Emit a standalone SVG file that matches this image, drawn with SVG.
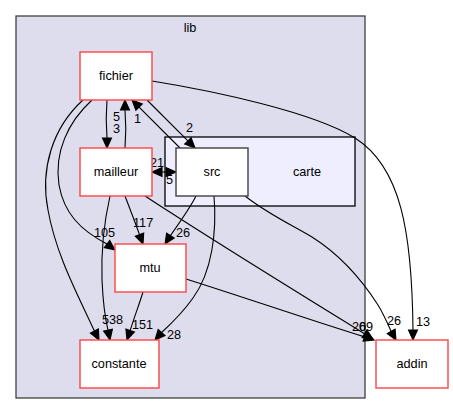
<svg xmlns="http://www.w3.org/2000/svg" width="453" height="415" viewBox="0 0 453 415">
<style>
text{font-family:"Liberation Sans",Arial,sans-serif;font-size:12.7px;fill:#000}
.c{text-anchor:middle}
.node{fill:#fff;stroke:#ff4444;stroke-width:1.4}
.dir{fill:#fff;stroke:#404040;stroke-width:1.4}
.e{fill:none;stroke:#000;stroke-width:1.1}
.h{fill:#000;stroke:#000;stroke-width:1.1}
</style>
<rect width="453" height="415" fill="#fff"/>
<g id="cluster_lib">
<rect x="16" y="16" width="349" height="382" fill="#ddddee" stroke="#404040" stroke-width="1.3"/>
<text class="c" x="190" y="32">lib</text>
</g>
<g id="cluster_carte">
<rect x="165" y="137" width="190" height="69" fill="#eeeeff" stroke="#000" stroke-width="1.3"/>
<text class="c" x="307" y="176">carte</text>
</g>
<g id="connectors">
<!-- fichier -> mailleur (3) -->
<path class="e" d="M107,100 C106,112 106,126 107,138"/>
<polygon class="h" points="107,148 102.5,138 111.5,138"/>
<text x="113" y="121">5</text>
<text x="113" y="133">3</text>
<!-- mailleur -> fichier (5) -->
<path class="e" d="M125,148 C126,136 126,122 125,110"/>
<polygon class="h" points="125,100 120.5,110 129.5,110"/>
<!-- src -> fichier (1) -->
<path class="e" d="M180,148 L139.1,107.1"/>
<polygon class="h" points="132,100 142.3,103.9 135.9,110.3"/>
<text x="134" y="123">1</text>
<!-- fichier -> src (2) -->
<path class="e" d="M147,100 L187.9,140.9"/>
<polygon class="h" points="195,148 191.1,137.7 184.7,144.1"/>
<text x="186" y="132">2</text>
<!-- mailleur <-> src -->
<path class="e" d="M162,172 L166,172"/>
<polygon class="h" points="176,172 166,167.5 166,176.5"/>
<polygon class="h" points="152,172 162,167.5 162,176.5"/>
<text x="150" y="167">21</text>
<text x="166" y="184">5</text>
<!-- fichier -> addin (13) -->
<path class="e" d="M152,81 C214,91 313,112 355,138 C401,167 412,232 413,330"/>
<polygon class="h" points="413,340 408.5,330 417.5,330"/>
<text x="416" y="326">13</text>
<!-- fichier -> mtu (105) -->
<path class="e" d="M92,100 C68,122 54,152 59,185 C64,213 80,230 107,244"/>
<polygon class="h" points="115,250 109.7,240.4 104.3,247.6"/>
<text x="94" y="237">105</text>
<!-- fichier -> constante (5) -->
<path class="e" d="M83,100 C52,128 40,170 48,210 C56,255 78,295 94.4,331.1"/>
<polygon class="h" points="99,340 98.4,329 90.4,333.2"/>
<!-- mailleur -> constante (38) -->
<path class="e" d="M110,196 C105,218 101,250 102,280 C103,302 105,318 108,330.2"/>
<polygon class="h" points="110,340 112.4,329.3 103.6,331.1"/>
<text x="102" y="324">5</text>
<text x="109" y="324">38</text>
<!-- mailleur -> mtu (117) -->
<path class="e" d="M125,196 C130,209 135,222 139.5,234.6"/>
<polygon class="h" points="143,244 143.7,233 135.3,236.2"/>
<text x="133" y="227">117</text>
<!-- src -> mtu (26) -->
<path class="e" d="M196,196 C190,208 180,222 170.4,235.6"/>
<polygon class="h" points="165,244 174.2,238 166.6,233.2"/>
<text x="176" y="237">26</text>
<!-- src -> constante (28) -->
<path class="e" d="M214,196 C217,232 212,272 193,298 C183,312 172,323 161.6,332.5"/>
<polygon class="h" points="155,340 165,335.5 158.2,329.5"/>
<text x="167" y="339">28</text>
<!-- src -> addin (26) -->
<path class="e" d="M245,196 C268,214 290,224 312,237 C342,256 362,280 378,305 C383,313 387,322 391.1,331.3"/>
<polygon class="h" points="396,340 395.1,329.1 387.2,333.5"/>
<text x="387" y="325">26</text>
<!-- mtu -> addin -->
<path class="e" d="M186,279 C240,296 310,320 364.5,336.9"/>
<polygon class="h" points="374,340 365.9,332.6 363.1,341.2"/>
<!-- mailleur -> addin -->
<path class="e" d="M145,196 C200,232 300,294 364.5,333.7"/>
<polygon class="h" points="373,339 366.9,329.9 362.1,337.5"/>
<text x="352" y="331">20</text>
<text x="359" y="331">69</text>
<!-- mtu -> constante (151) -->
<path class="e" d="M143,292 C139,305 134,318 130.2,330.5"/>
<polygon class="h" points="127,340 134.4,331.9 125.9,329.1"/>
<text x="132" y="329">151</text>
</g>
<g id="node_fichier">
<rect class="node" x="80" y="52" width="72" height="48"/>
<text class="c" x="116" y="80">fichier</text>
</g>
<g id="node_mailleur">
<rect class="node" x="80" y="148" width="72" height="48"/>
<text class="c" x="116" y="176">mailleur</text>
</g>
<g id="node_src">
<rect class="dir" x="176" y="148" width="72" height="48"/>
<text class="c" x="212" y="176">src</text>
</g>
<g id="node_mtu">
<rect class="node" x="115" y="244" width="71" height="48"/>
<text class="c" x="150" y="272">mtu</text>
</g>
<g id="node_constante">
<rect class="node" x="80" y="340" width="79" height="48"/>
<text class="c" x="119" y="368">constante</text>
</g>
<g id="node_addin">
<rect class="node" x="376" y="340" width="72" height="48"/>
<text class="c" x="412" y="368">addin</text>
</g>
</svg>
